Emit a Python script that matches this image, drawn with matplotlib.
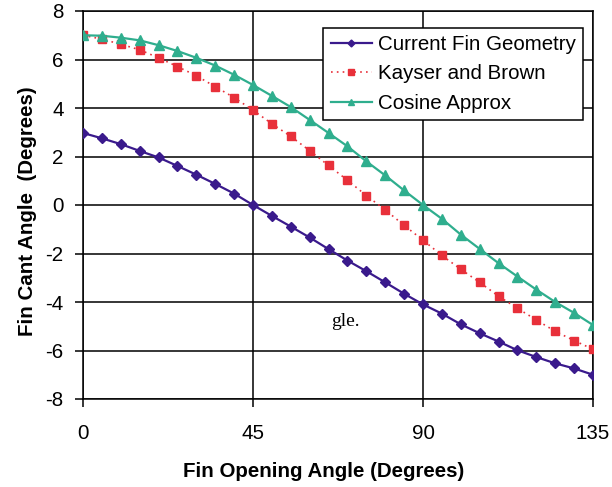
import matplotlib
matplotlib.use("Agg")
import matplotlib.pyplot as plt

# fin opening angle, degrees
opening = [0, 5, 10, 15, 20, 25, 30, 35, 40, 45, 50, 55, 60, 65,
           70, 75, 80, 85, 90, 95, 100, 105, 110, 115, 120, 125, 130, 135]

current_fin = [2.97, 2.75, 2.51, 2.23, 1.96, 1.61, 1.25, 0.87, 0.47, 0.0,
               -0.45, -0.89, -1.34, -1.82, -2.29, -2.73, -3.19, -3.66, -4.10,
               -4.48, -4.92, -5.29, -5.63, -5.99, -6.27, -6.53, -6.74, -7.0]

kayser_brown = [7.0, 6.84, 6.63, 6.40, 6.07, 5.71, 5.33, 4.88, 4.43, 3.91,
                3.35, 2.83, 2.24, 1.63, 1.02, 0.39, -0.20, -0.84, -1.45,
                -2.08, -2.65, -3.19, -3.76, -4.26, -4.74, -5.21, -5.59, -5.95]

cosine_approx = [7.0, 6.98, 6.90, 6.79, 6.59, 6.35, 6.07, 5.75, 5.37, 4.95,
                 4.50, 4.04, 3.51, 2.97, 2.42, 1.80, 1.22, 0.60, 0.0,
                 -0.57, -1.22, -1.81, -2.40, -2.95, -3.49, -4.0, -4.45, -4.95]

x_ticks = [0, 45, 90, 135]
y_ticks = [-8, -6, -4, -2, 0, 2, 4, 6, 8]

plt.rcParams["font.family"] = ["Liberation Sans", "DejaVu Sans"]
plt.rcParams["axes.unicode_minus"] = False

FS = 14.8
W, H = 612, 487
fig = plt.figure(figsize=(W / 100, H / 100), dpi=100)
ax = fig.add_axes([83 / W, 1 - 399 / H, (593 - 83) / W, (399 - 11) / H])

ax.plot(opening, current_fin, color="#3a1a8c", lw=1.6, marker="D", ms=5,
        label="Current Fin Geometry", zorder=3)
ax.plot(opening, kayser_brown, color="#e8303a", lw=1.2, ls=(0, (1, 2.5)),
        marker="s", ms=5.5, label="Kayser and Brown", zorder=4)
ax.plot(opening, cosine_approx, color="#2fae8e", lw=1.6, marker="^", ms=6.5,
        label="Cosine Approx", zorder=5)

ax.set_xlim(0, 135)
ax.set_ylim(-8, 8)
ax.set_xticks(x_ticks)
ax.set_yticks(y_ticks)
ax.grid(True, color="black", lw=1.1)
ax.set_axisbelow(True)

for side in ["top", "right", "left", "bottom"]:
    ax.spines[side].set_color("black")
    ax.spines[side].set_linewidth(1.1)

ax.tick_params(axis="both", direction="out", length=6, width=1.1,
               labelsize=FS, colors="black")
ax.tick_params(axis="x", pad=12)
ax.tick_params(axis="y", pad=8)

ax.set_xlabel("Fin Opening Angle (Degrees)", fontsize=FS, fontweight="bold")
ax.set_ylabel("Fin Cant Angle  (Degrees)", fontsize=FS, fontweight="bold")
ax.xaxis.set_label_coords(0.4725, -0.162)
ax.yaxis.set_label_coords(-0.09, 0.483)

leg = ax.legend(loc="upper right", bbox_to_anchor=(583 / W, 1 - 28 / H),
                bbox_transform=fig.transFigure, fontsize=FS, numpoints=1,
                markerscale=0.7, handlelength=2.0, handletextpad=0.3,
                labelspacing=0.5, borderpad=0.35, borderaxespad=0,
                fancybox=False, framealpha=1, edgecolor="black")
leg.get_frame().set_linewidth(1.1)

fig.text(345 / W, 1 - 322 / H, "gle.", family="Liberation Serif",
         fontsize=14, ha="center", va="center")

fig.savefig("out.png", dpi=100)
